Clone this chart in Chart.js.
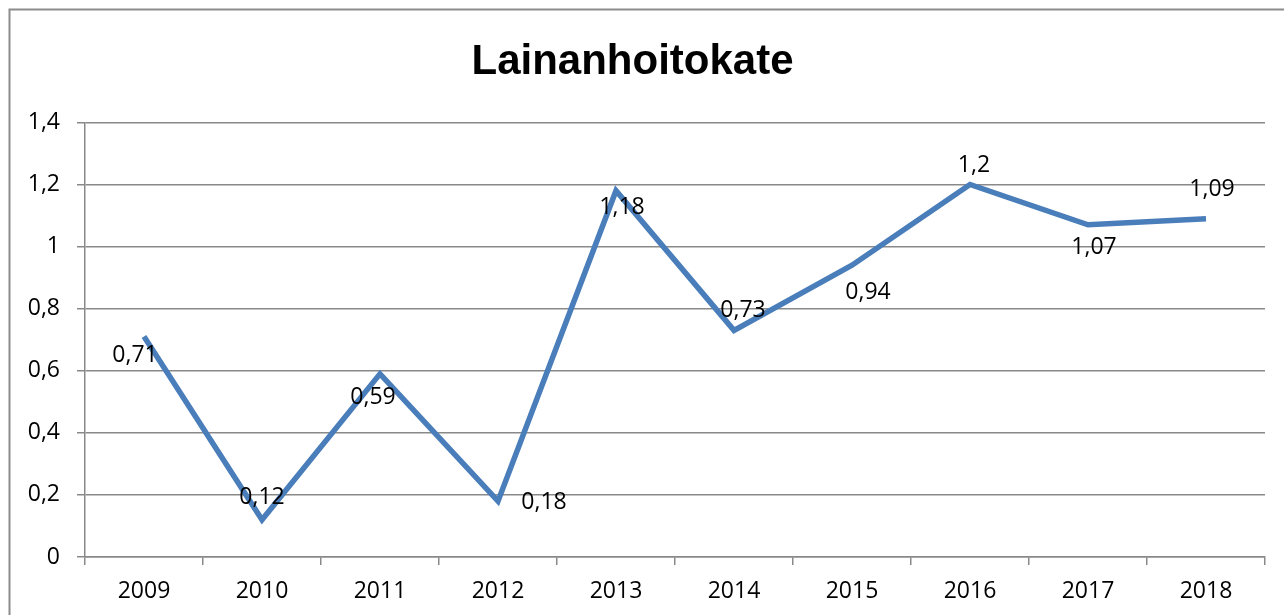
<!DOCTYPE html>
<html>
<head>
<meta charset="utf-8">
<title>Lainanhoitokate</title>
<script src="https://cdn.jsdelivr.net/npm/chart.js@4/dist/chart.umd.min.js"></script>
<style>
    html, body { margin: 0; padding: 0; background: #fff; overflow: hidden; }
    #wrap { position: absolute; left: 0; top: 0; }
</style>
</head>
<body>
<div id="wrap"><canvas id="chart" width="1306" height="615"></canvas></div>
<script>
// Chart data
const years = ['2009', '2010', '2011', '2012', '2013', '2014', '2015', '2016', '2017', '2018'];
const coverValues = [0.71, 0.12, 0.59, 0.18, 1.18, 0.73, 0.94, 1.2, 1.07, 1.09];
const yMin = 0;
const yMax = 1.4;
const yStep = 0.2;

// where each value label sits relative to its point (dx, dy in px)
const labelOffsets = [[-9, 19], [0, -22], [-7, 24], [46, 1], [6, 17], [9, -20], [16, 27], [4, -19], [6, 23], [6, -29]];

const gridGray = '#898989';
const lineBlue = '#4a7ebb';
const tickFont = { family: "'Open Sans', sans-serif", size: 23 };

function fiNumber(v) {
    return Number(v.toFixed(2)).toString().replace('.', ',');
}

// Outer frame (only left and top edges are visible in the window)
const framePlugin = {
    id: 'frame',
    beforeDraw(chart) {
        const ctx = chart.ctx;
        ctx.save();
        ctx.strokeStyle = '#8c8c8c';
        ctx.lineWidth = 2;
        ctx.beginPath();
        ctx.moveTo(9.5, 700);
        ctx.lineTo(9.5, 9.5);
        ctx.lineTo(1400, 9.5);
        ctx.stroke();
        ctx.restore();
    }
};

// Value labels next to the points
const valueLabels = {
    id: 'valueLabels',
    afterDatasetsDraw(chart) {
        const ctx = chart.ctx;
        const meta = chart.getDatasetMeta(0);
        ctx.save();
        ctx.font = `${tickFont.size}px ${tickFont.family}`;
        ctx.fillStyle = '#000';
        ctx.textAlign = 'center';
        ctx.textBaseline = 'middle';
        meta.data.forEach((pt, i) => {
            const off = labelOffsets[i] || [0, -20];
            ctx.fillText(fiNumber(coverValues[i]), pt.x + off[0], pt.y + off[1]);
        });
        ctx.restore();
    }
};

const ctx = document.getElementById('chart').getContext('2d');
const chart = new Chart(ctx, {
    type: 'line',
    data: {
        labels: years,
        datasets: [{
            data: coverValues,
            borderColor: lineBlue,
            borderWidth: 5.5,
            pointRadius: 0,
            tension: 0,
            fill: false
        }]
    },
    options: {
        responsive: false,
        animation: false,
        devicePixelRatio: 1,
        layout: { padding: { left: 0, right: 41, top: 0, bottom: 0 } },
        plugins: {
            legend: { display: false },
            tooltip: { enabled: false },
            title: {
                display: true,
                text: 'Lainanhoitokate',
                color: '#000',
                font: { family: "'Liberation Sans', Arial, sans-serif", size: 42, weight: 'bold', lineHeight: 1.2 },
                padding: { top: 37, bottom: 35 }
            }
        },
        scales: {
            x: {
                type: 'category',
                offset: true,
                grid: {
                    offset: true,
                    drawOnChartArea: false,
                    drawTicks: true,
                    tickLength: 8,
                    color: gridGray,
                    lineWidth: 1.5
                },
                border: { color: gridGray, width: 1.5 },
                ticks: {
                    color: '#000',
                    font: tickFont,
                    padding: 13,
                    maxRotation: 0
                },
                afterFit(scale) { scale.height = 58; }
            },
            y: {
                min: yMin,
                max: yMax,
                grid: {
                    color: gridGray,
                    lineWidth: 1.5,
                    tickLength: 8
                },
                border: { color: gridGray, width: 1.5 },
                ticks: {
                    stepSize: yStep,
                    color: '#000',
                    font: tickFont,
                    padding: 17,
                    callback: function(value) {
                        return fiNumber(value);
                    }
                },
                afterFit(scale) { scale.width = 85; }
            }
        }
    },
    plugins: [framePlugin, valueLabels]
});
</script>
</body>
</html>
